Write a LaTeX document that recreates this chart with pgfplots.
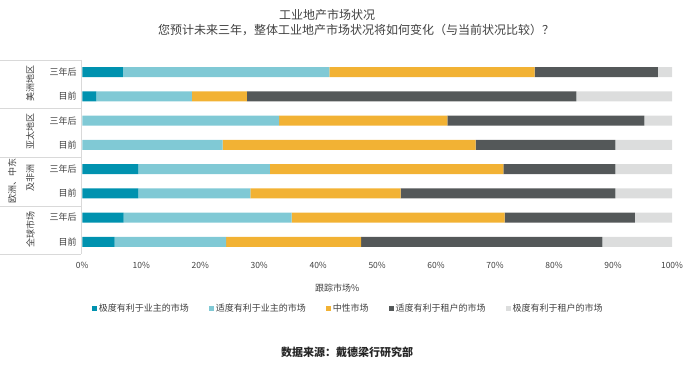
\documentclass[border=0pt]{standalone}
\usepackage{pgfplots}
\pgfplotsset{compat=1.18}
\usepackage{fontspec}
\setmainfont{Noto Sans CJK SC}
\definecolor{cA}{RGB}{0,146,175}
\definecolor{cB}{RGB}{128,201,213}
\definecolor{cC}{RGB}{242,178,52}
\definecolor{cD}{RGB}{84,88,89}
\definecolor{cE}{RGB}{220,221,221}
\definecolor{txt}{RGB}{64,64,64}
\definecolor{sep}{RGB}{217,217,217}
\begin{document}
\begin{tikzpicture}[x=1pt,y=1pt]
\path (0,0) rectangle (700,378);
\begin{axis}[
  at={(82pt,124pt)}, anchor=south west,
  scale only axis, width=590pt, height=194pt,
  xbar stacked, bar width=10pt,
  xmin=0, xmax=100, ymin=-0.5, ymax=7.5, y dir=reverse,
  axis line style={draw=none},
  major tick length=0pt,
  ytick={0,...,7},
  yticklabels={三年后,目前,三年后,目前,三年后,目前,三年后,目前},
  yticklabel style={font=\fontsize{9}{10}\selectfont, text=txt, xshift=-2pt},
  xtick={0,10,...,100},
  xticklabel={\pgfmathprintnumber{\tick}\%},
  xticklabel style={font=\fontsize{8.5}{10}\selectfont, text=txt, yshift=-5pt},
  /pgf/number format/assume math mode=true,
  clip=false,
  legend style={at={(0.451,-0.28)}, anchor=center, draw=none, font=\fontsize{9}{10}\selectfont, text=txt, legend columns=5,
    /tikz/every even column/.append style={column sep=18pt}},
  legend image code/.code={\fill[#1,draw=none] (0pt,-2.5pt) rectangle (5pt,2.5pt);},
]
\addplot[fill=cA, draw=none] coordinates {(6.9,0) (2.4,1) (0,2) (0,3) (9.5,4) (9.5,5) (7.0,6) (5.5,7)};
\addplot[fill=cB, draw=none] coordinates {(35.0,0) (16.2,1) (33.4,2) (23.8,3) (22.3,4) (19.0,5) (28.5,6) (18.9,7)};
\addplot[fill=cC, draw=none] coordinates {(34.8,0) (9.3,1) (28.5,2) (42.9,3) (39.6,4) (25.5,5) (36.1,6) (22.9,7)};
\addplot[fill=cD, draw=none] coordinates {(20.9,0) (55.9,1) (33.4,2) (23.7,3) (19.0,4) (36.4,5) (22.1,6) (40.9,7)};
\addplot[fill=cE, draw=none] coordinates {(2.4,0) (16.2,1) (4.7,2) (9.6,3) (9.6,4) (9.6,5) (6.3,6) (11.8,7)};
\legend{极度有利于业主的市场,适度有利于业主的市场,中性市场,适度有利于租户的市场,极度有利于租户的市场}
\end{axis}
% group frame
\draw[sep, line width=0.6pt] (81,318) -- (81,124);
\foreach \yy in {318,270,221,172,124} { \draw[sep, line width=0.6pt] (0,\yy) -- (81,\yy); }
\node[rotate=90, text=txt, font=\fontsize{9}{10}\selectfont] at (30,294) {美洲地区};
\node[rotate=90, text=txt, font=\fontsize{9}{10}\selectfont] at (30,246) {亚太地区};
\node[rotate=90, text=txt, font=\fontsize{9}{10}\selectfont] at (12,196.5) {欧洲、中东};
\node[rotate=90, text=txt, font=\fontsize{9}{10}\selectfont] at (30,200) {及非洲};
\node[rotate=90, text=txt, font=\fontsize{9}{10}\selectfont] at (30,148) {全球市场};
% titles
\node[text=txt, font=\fontsize{12}{14}\selectfont] at (327,363) {工业地产市场状况};
\node[text=txt, font=\fontsize{12}{14}\selectfont] at (356,348) {您预计未来三年，整体工业地产市场状况将如何变化（与当前状况比较）？};
\node[text=txt, font=\fontsize{9}{10}\selectfont] at (337,90) {跟踪市场\%};
\node[text=black!85, font=\bfseries\fontsize{11}{12}\selectfont] at (347,26) {数据来源：戴德梁行研究部};
\end{tikzpicture}
\end{document}
